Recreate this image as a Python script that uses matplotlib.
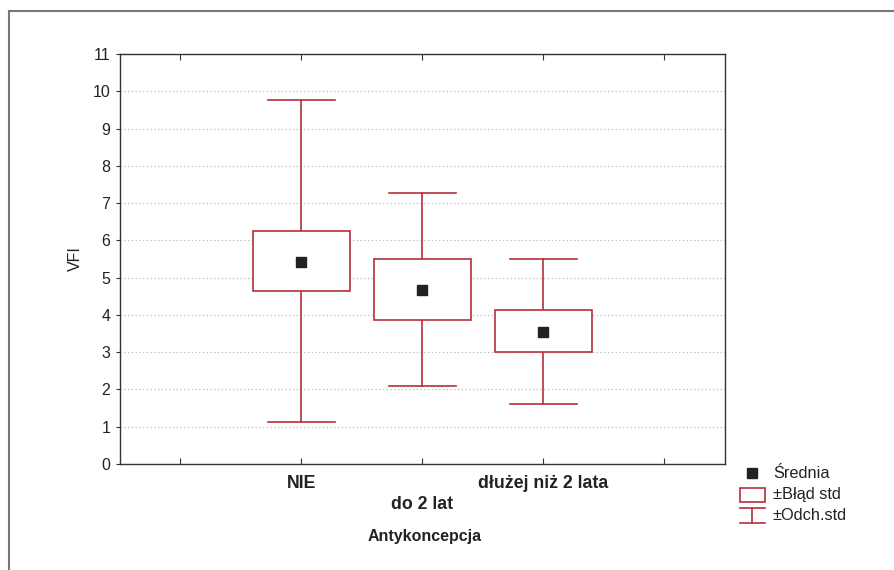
import matplotlib.pyplot as plt
from matplotlib.lines import Line2D
from matplotlib.patches import Rectangle

# dane
groups = ["NIE", "do 2 lat", "dłużej niż 2 lata"]
means = [5.43, 4.68, 3.55]
se_low = [4.63, 3.86, 3.00]
se_high = [6.26, 5.49, 4.12]
sd_low = [1.13, 2.09, 1.62]
sd_high = [9.76, 7.27, 5.51]

red = "#b5303c"
W, H = 895, 570

fig = plt.figure(figsize=(W / 100, H / 100), dpi=100)
plt.rcParams['font.family'] = ['Liberation Sans', 'DejaVu Sans']

# ramka wokol calego obrazka (widac tylko lewa i gorna krawedz)
fig.add_artist(Line2D([9 / W, 9 / W], [0, 1 - 11 / H], color="#777777", lw=1.5))
fig.add_artist(Line2D([9 / W, 1], [1 - 11 / H, 1 - 11 / H], color="#777777", lw=1.5))

ax = fig.add_axes([120 / W, (H - 464) / H, 605 / W, 410 / H])
ax.set_xlim(-0.5, 4.5)
ax.set_ylim(0, 11)

for i, g in enumerate(groups):
    x = i + 1
    # whisker +-odch.std
    ax.plot([x, x], [se_high[i], sd_high[i]], color=red, lw=1.2, zorder=3)
    ax.plot([x, x], [sd_low[i], se_low[i]], color=red, lw=1.2, zorder=3)
    ax.plot([x - 0.28, x + 0.28], [sd_high[i], sd_high[i]], color=red, lw=1.2, zorder=3)
    ax.plot([x - 0.28, x + 0.28], [sd_low[i], sd_low[i]], color=red, lw=1.2, zorder=3)
    # pudelko +-blad std
    ax.add_patch(Rectangle((x - 0.4, se_low[i]), 0.8, se_high[i] - se_low[i],
                           facecolor="white", edgecolor=red, lw=1.2, zorder=3))
    ax.plot(x, means[i], "s", color="#222222", ms=6.5, zorder=4)

ax.set_yticks(range(0, 12))
ax.set_xticks(range(0, 5))
ax.set_xticklabels([])
ax.tick_params(axis="both", direction="in", length=4, colors="#333333",
               labelcolor="#222222", labelsize=11.5, top=True)
ax.tick_params(axis="y", direction="out", length=3, pad=4)
ax.grid(axis="y", linestyle=(0, (1, 2)), color="#bbbbbb", lw=0.9)
ax.set_axisbelow(True)
for s in ax.spines.values():
    s.set_color("#333333")
    s.set_linewidth(1.0)

# etykiety kategorii (naprzemiennie)
for i, g in enumerate(groups):
    ax.text(i + 1, -0.3 if i != 1 else -0.85, g, ha="center", va="top",
            fontsize=12.8, fontweight="bold", color="#222222",
            transform=ax.transData, clip_on=False)
ax.set_ylabel("VFI", fontsize=11.5, color="#222222", labelpad=7)
fig.text(425 / W, 1 - 537 / H, "Antykoncepcja", ha="center", va="center",
         fontsize=11.5, fontweight="bold", color="#222222")

# legenda
lx0, lx1 = 740 / W, 765 / W
fig.add_artist(Line2D([752 / W], [1 - 473 / H], marker="s", color="#222222", ms=6.5, lw=0))
fig.text(773 / W, 1 - 474 / H, "Średnia", va="center", fontsize=11.8, color="#222222")
fig.add_artist(Rectangle((lx0, 1 - 502 / H), lx1 - lx0, 14 / H, transform=fig.transFigure,
                         facecolor="white", edgecolor=red, lw=1.2))
fig.text(773 / W, 1 - 494 / H, "±Błąd std", va="center", fontsize=11.8, color="#222222")
fig.add_artist(Line2D([lx0, lx1], [1 - 508 / H] * 2, color=red, lw=1.2))
fig.add_artist(Line2D([lx0, lx1], [1 - 523 / H] * 2, color=red, lw=1.2))
fig.add_artist(Line2D([752.5 / W] * 2, [1 - 508 / H, 1 - 523 / H], color=red, lw=1.2))
fig.text(773 / W, 1 - 515 / H, "±Odch.std", va="center", fontsize=11.8, color="#222222")

fig.savefig("out.png", dpi=100)
